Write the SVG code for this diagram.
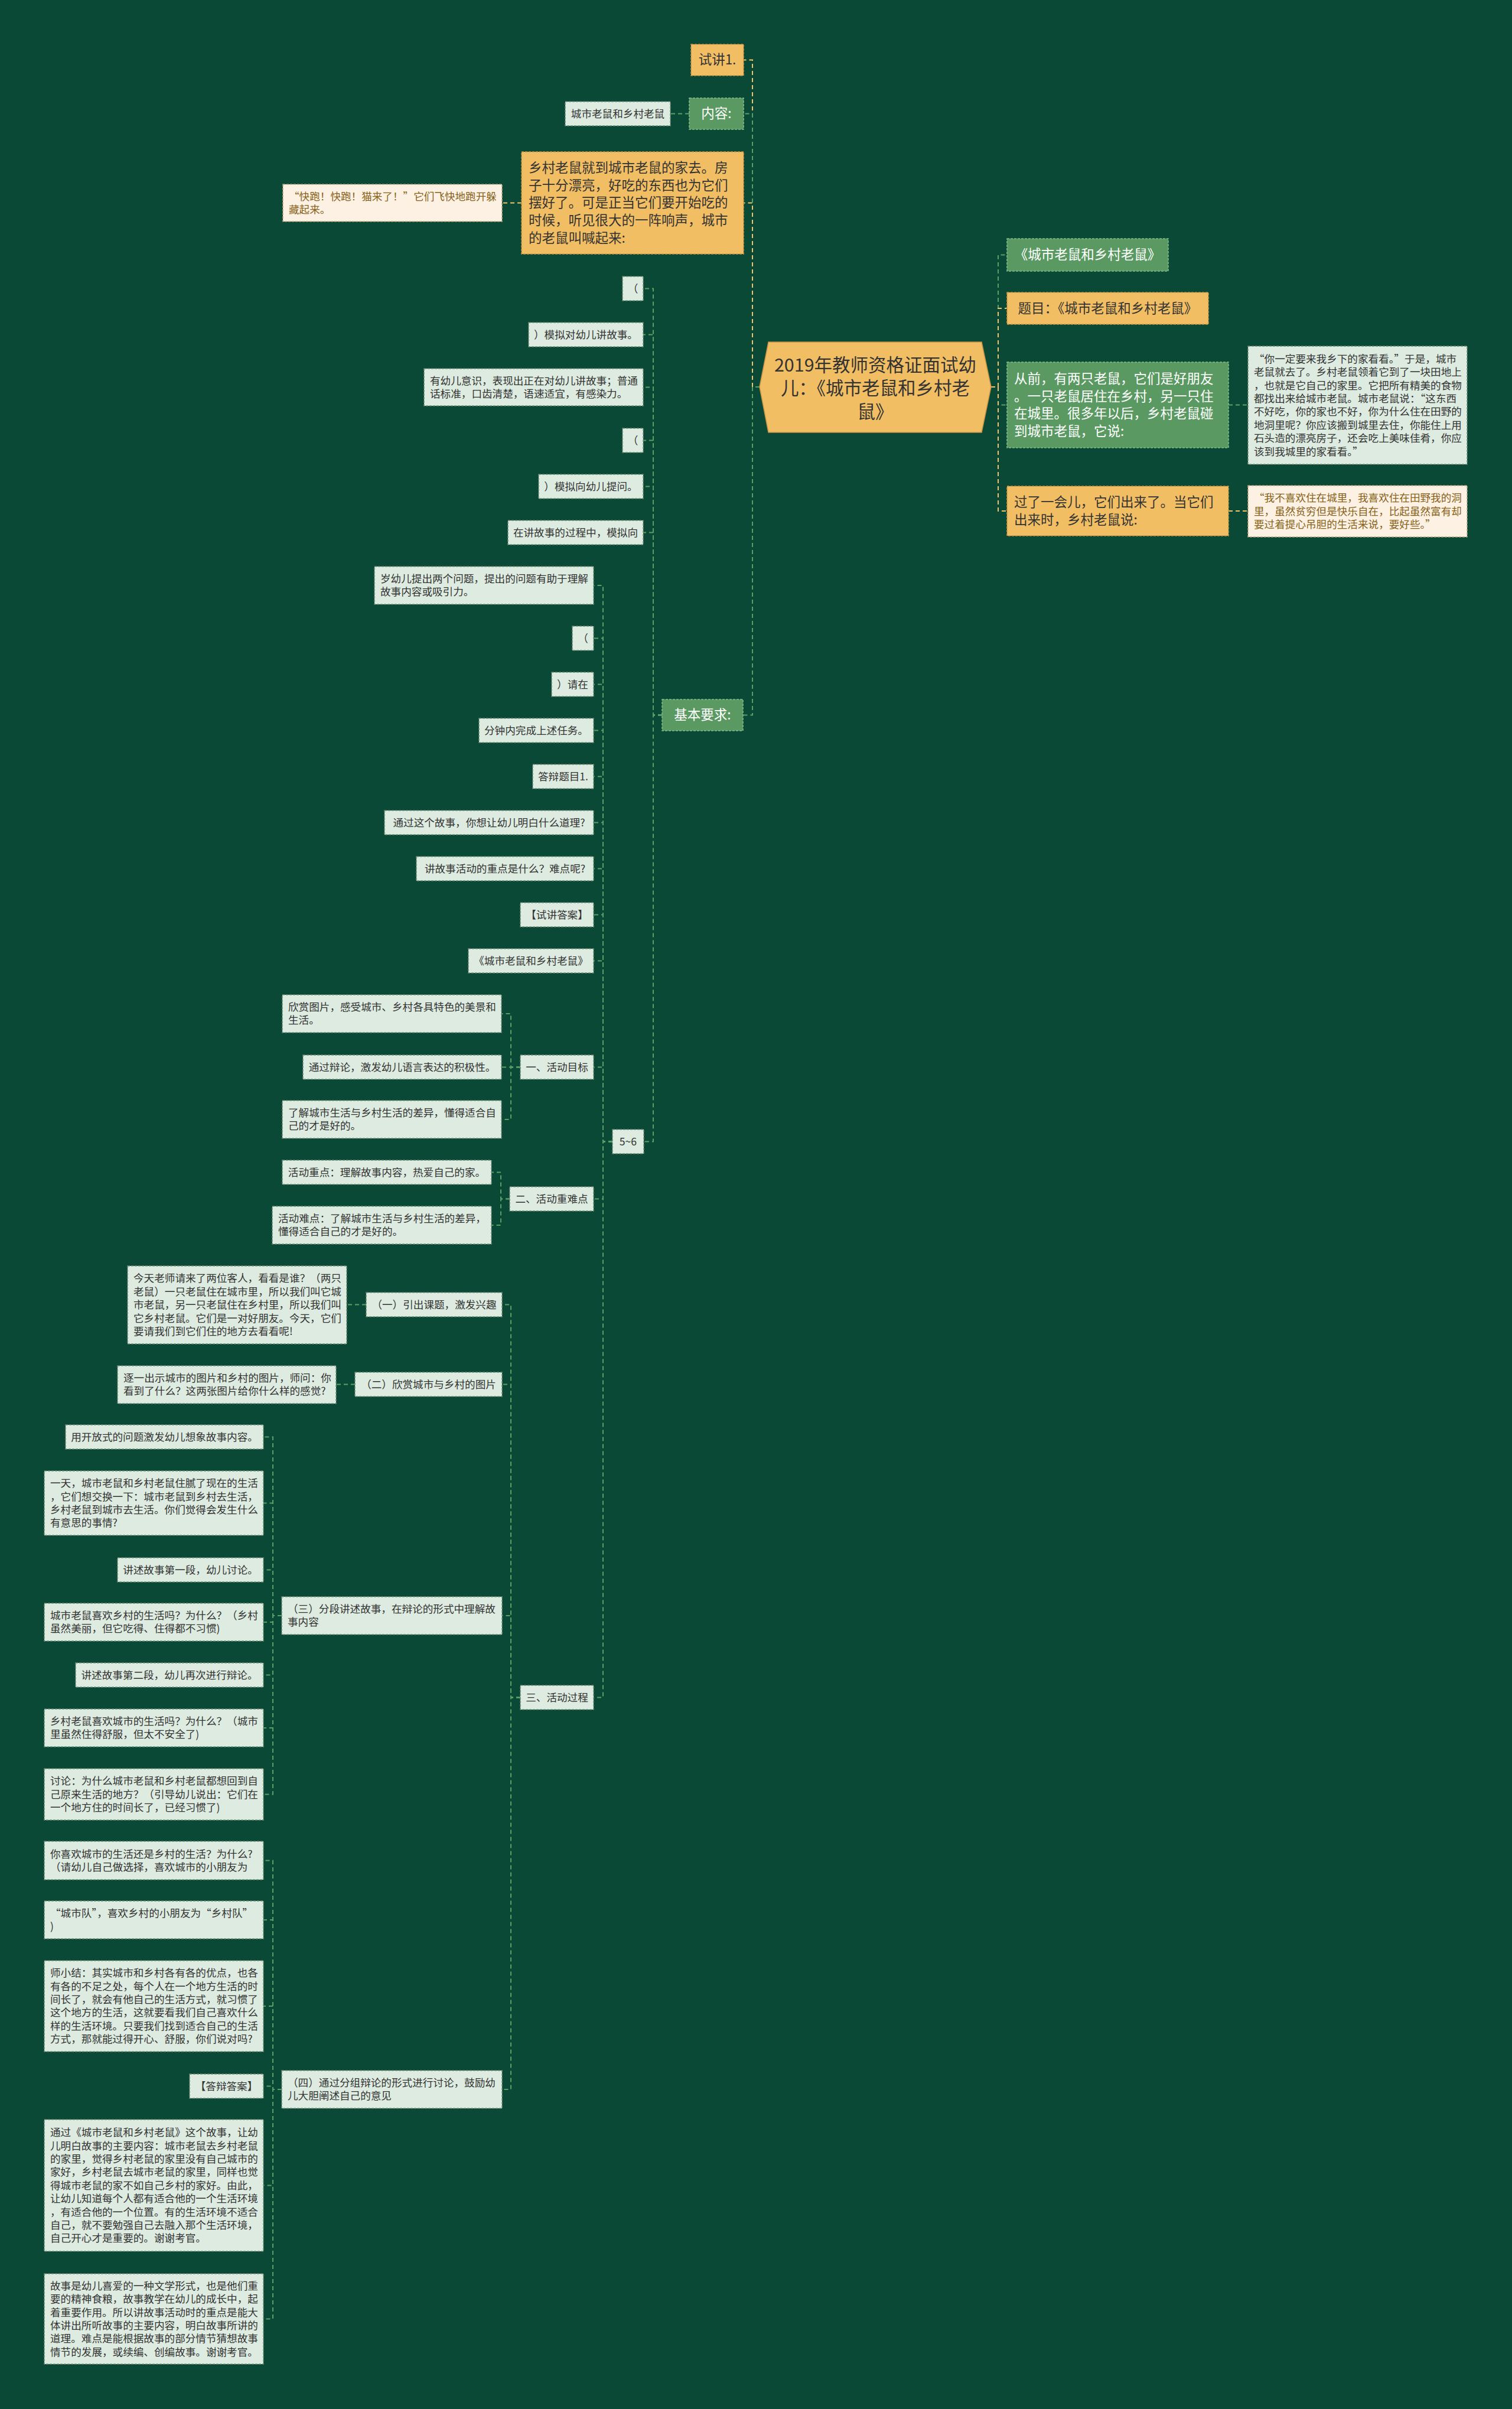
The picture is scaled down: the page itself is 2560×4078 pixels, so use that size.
<svg xmlns="http://www.w3.org/2000/svg" width="2560" height="4078" viewBox="0 0 2560 4078">
<style>
text{font-family:"Noto Sans CJK SC","Microsoft YaHei","Liberation Sans",sans-serif;}
.bg{fill:#0A4935;}
.lk{fill:none;stroke-width:2;stroke-dasharray:7 5;}
.g{stroke:#5C9E68;}
.y{stroke:#F2C36A;}
.or{fill:#F2BE63;stroke:#C99446;stroke-width:1.5;stroke-dasharray:4 2;}
.gr{fill:#5A9A62;stroke:#85BA8B;stroke-width:1.5;stroke-dasharray:4 2;}
.lt{fill:#DDEBE0;stroke:#6F8C78;stroke-width:1.5;stroke-dasharray:4 2;}
.cr{fill:#FCF1E2;stroke:#B9A27A;stroke-width:1.5;stroke-dasharray:4 2;}
.rt{fill:#F2BE63;stroke:#C99446;stroke-width:1.5;}
.s{font-size:17.6px;fill:#333333;}
.sb{font-size:17.6px;fill:#87621B;}
.m{font-size:22.5px;fill:#333333;}
.mw{font-size:22.5px;fill:#FFFFFF;}
.r{font-size:30.5px;fill:#333333;}
.c{text-anchor:middle;}
</style>
<rect class="bg" x="0" y="0" width="2560" height="4078"/>

<g id="connectors">
<path class="lk y" d="M1286 655 H1274 V101.5 H1259"/>
<path class="lk g" d="M1286 655 H1274 V192.5 H1259"/>
<path class="lk y" d="M1286 655 H1274 V343.5 H1259"/>
<path class="lk g" d="M1286 655 H1274 V1210.5 H1258"/>
<path class="lk g" d="M1678 655 H1690 V431.5 H1705"/>
<path class="lk y" d="M1678 655 H1690 V522 H1705"/>
<path class="lk g" d="M1678 655 H1690 V685.5 H1705"/>
<path class="lk y" d="M1678 655 H1690 V865 H1705"/>
<path class="lk g" d="M2080 685.5 H2113"/>
<path class="lk y" d="M2080 865 H2113"/>
<path class="lk g" d="M1167 192.5 H1135"/>
<path class="lk y" d="M883 343.5 H850"/>
<path class="lk g" d="M1121 1210.5 H1106 V488.5 H1089"/>
<path class="lk g" d="M1121 1210.5 H1106 V566.5 H1089"/>
<path class="lk g" d="M1121 1210.5 H1106 V655.5 H1089"/>
<path class="lk g" d="M1121 1210.5 H1106 V745.5 H1089"/>
<path class="lk g" d="M1121 1210.5 H1106 V823.5 H1089"/>
<path class="lk g" d="M1121 1210.5 H1106 V901.5 H1089"/>
<path class="lk g" d="M1121 1210.5 H1106 V1932.5 H1090"/>
<path class="lk g" d="M1037 1932.5 H1021 V991 H1005"/>
<path class="lk g" d="M1037 1932.5 H1021 V1080.5 H1005"/>
<path class="lk g" d="M1037 1932.5 H1021 V1158.5 H1005"/>
<path class="lk g" d="M1037 1932.5 H1021 V1236.5 H1005"/>
<path class="lk g" d="M1037 1932.5 H1021 V1314.5 H1005"/>
<path class="lk g" d="M1037 1932.5 H1021 V1392.5 H1005"/>
<path class="lk g" d="M1037 1932.5 H1021 V1470.5 H1005"/>
<path class="lk g" d="M1037 1932.5 H1021 V1548.5 H1005"/>
<path class="lk g" d="M1037 1932.5 H1021 V1626.5 H1005"/>
<path class="lk g" d="M1037 1932.5 H1021 V1806.5 H1005"/>
<path class="lk g" d="M1037 1932.5 H1021 V2029.5 H1005"/>
<path class="lk g" d="M1037 1932.5 H1021 V2873.5 H1005"/>
<path class="lk g" d="M881 1806.5 H865 V1716 H849"/>
<path class="lk g" d="M881 1806.5 H849"/>
<path class="lk g" d="M881 1806.5 H865 V1895 H849"/>
<path class="lk g" d="M863 2029.5 H848 V1984.5 H832"/>
<path class="lk g" d="M863 2029.5 H848 V2074 H832"/>
<path class="lk g" d="M881 2873.5 H865 V2208.5 H850"/>
<path class="lk g" d="M881 2873.5 H865 V2343.5 H850"/>
<path class="lk g" d="M881 2873.5 H865 V2735 H850"/>
<path class="lk g" d="M881 2873.5 H865 V3537 H850"/>
<path class="lk g" d="M620 2208.5 H587"/>
<path class="lk g" d="M601 2343.5 H569"/>
<path class="lk g" d="M477 2735 H462 V2432.5 H446"/>
<path class="lk g" d="M477 2735 H462 V2544.5 H446"/>
<path class="lk g" d="M477 2735 H462 V2657.5 H446"/>
<path class="lk g" d="M477 2735 H462 V2746 H446"/>
<path class="lk g" d="M477 2735 H462 V2835.5 H446"/>
<path class="lk g" d="M477 2735 H462 V2925 H446"/>
<path class="lk g" d="M477 2735 H462 V3037.5 H446"/>
<path class="lk g" d="M477 3537 H462 V3149.5 H446"/>
<path class="lk g" d="M477 3537 H462 V3250 H446"/>
<path class="lk g" d="M477 3537 H462 V3396 H446"/>
<path class="lk g" d="M477 3537 H462 V3531.5 H446"/>
<path class="lk g" d="M477 3537 H462 V3699.5 H446"/>
<path class="lk g" d="M477 3537 H462 V3925.5 H446"/>
</g>

<g id="root">
<polygon class="rt" points="1286,655 1301,579 1662,579 1678,655 1662,732 1301,732"/>
<text class="r c" x="1482" y="629">2019年教师资格证面试幼</text>
<text class="r c" x="1482" y="668">儿：《城市老鼠和乡村老</text>
<text class="r c" x="1482" y="708">鼠》</text>
</g>

<g id="n-shijiang"><rect class="or" x="1170" y="75" width="89" height="53"/><text class="m c" x="1214.5" y="109.4">试讲1.</text></g>
<g id="n-neirong"><rect class="gr" x="1167" y="166" width="92" height="53"/><text class="mw c" x="1213" y="200.4">内容:</text></g>
<g id="n-neirong-1"><rect class="lt" x="957" y="172" width="178" height="41"/><text class="s c" x="1046" y="198.7">城市老鼠和乡村老鼠</text></g>
<g id="n-story1"><rect class="or" x="883" y="257" width="376" height="173"/>
<text class="m" x="895" y="292"><tspan x="895">乡村老鼠就到城市老鼠的家去。房</tspan><tspan x="895" dy="29.7">子十分漂亮，好吃的东西也为它们</tspan><tspan x="895" dy="29.7">摆好了。可是正当它们要开始吃的</tspan><tspan x="895" dy="29.7">时候，听见很大的一阵响声，城市</tspan><tspan x="895" dy="29.7">的老鼠叫喊起来:</tspan></text></g>
<g id="n-story1-1"><rect class="cr" x="479" y="312" width="371" height="63"/>
<text class="sb" x="489" y="338.5"><tspan x="489">“快跑！快跑！猫来了！”它们飞快地跑开躲</tspan><tspan x="489" dy="22.4">藏起来。</tspan></text></g>
<g id="n-jiben"><rect class="gr" x="1121" y="1184" width="137" height="53"/><text class="mw c" x="1189.5" y="1218.4">基本要求:</text></g>

<g id="n-r1"><rect class="gr" x="1705" y="404" width="273" height="55"/><text class="mw c" x="1841.5" y="439.4">《城市老鼠和乡村老鼠》</text></g>
<g id="n-r2"><rect class="or" x="1705" y="495" width="341" height="54"/><text class="m c" x="1875.5" y="529.9">题目：《城市老鼠和乡村老鼠》</text></g>
<g id="n-r3"><rect class="gr" x="1705" y="613" width="375" height="145"/>
<text class="mw" x="1717" y="648.8"><tspan x="1717">从前，有两只老鼠，它们是好朋友</tspan><tspan x="1717" dy="29.7">。一只老鼠居住在乡村，另一只住</tspan><tspan x="1717" dy="29.7">在城里。很多年以后，乡村老鼠碰</tspan><tspan x="1717" dy="29.7">到城市老鼠，它说:</tspan></text></g>
<g id="n-r3-1"><rect class="lt" x="2113" y="586" width="371" height="200"/>
<text class="s" x="2123" y="613.8"><tspan x="2123">“你一定要来我乡下的家看看。”于是，城市</tspan><tspan x="2123" dy="22.4">老鼠就去了。乡村老鼠领着它到了一块田地上</tspan><tspan x="2123" dy="22.4">，也就是它自己的家里。它把所有精美的食物</tspan><tspan x="2123" dy="22.4">都找出来给城市老鼠。城市老鼠说：“这东西</tspan><tspan x="2123" dy="22.4">不好吃，你的家也不好，你为什么住在田野的</tspan><tspan x="2123" dy="22.4">地洞里呢？你应该搬到城里去住，你能住上用</tspan><tspan x="2123" dy="22.4">石头造的漂亮房子，还会吃上美味佳肴，你应</tspan><tspan x="2123" dy="22.4">该到我城里的家看看。”</tspan></text></g>
<g id="n-r4"><rect class="or" x="1705" y="823" width="375" height="84"/>
<text class="m" x="1717" y="858"><tspan x="1717">过了一会儿，它们出来了。当它们</tspan><tspan x="1717" dy="29.7">出来时，乡村老鼠说:</tspan></text></g>
<g id="n-r4-1"><rect class="cr" x="2113" y="822" width="371" height="87"/>
<text class="sb" x="2123" y="849.3"><tspan x="2123">“我不喜欢住在城里，我喜欢住在田野我的洞</tspan><tspan x="2123" dy="22.4">里，虽然贫穷但是快乐自在，比起虽然富有却</tspan><tspan x="2123" dy="22.4">要过着提心吊胆的生活来说，要好些。”</tspan></text></g>

<g id="n-j1"><rect class="lt" x="1054" y="468" width="35" height="41"/><text class="s c" x="1071.5" y="494.7">（</text></g>
<g id="n-j2"><rect class="lt" x="895" y="546" width="194" height="41"/><text class="s c" x="992" y="572.7">）模拟对幼儿讲故事。</text></g>
<g id="n-j3"><rect class="lt" x="718" y="624" width="371" height="63"/>
<text class="s" x="728" y="650.5"><tspan x="728">有幼儿意识，表现出正在对幼儿讲故事；普通</tspan><tspan x="728" dy="22.4">话标准，口齿清楚，语速适宜，有感染力。</tspan></text></g>
<g id="n-j4"><rect class="lt" x="1054" y="725" width="35" height="41"/><text class="s c" x="1071.5" y="751.7">（</text></g>
<g id="n-j5"><rect class="lt" x="912" y="803" width="177" height="41"/><text class="s c" x="1000.5" y="829.7">）模拟向幼儿提问。</text></g>
<g id="n-j6"><rect class="lt" x="860" y="881" width="229" height="41"/><text class="s c" x="974.5" y="907.7">在讲故事的过程中，模拟向</text></g>
<g id="n-j7"><rect class="lt" x="1037" y="1912" width="53" height="41"/><text class="s c" x="1063.5" y="1938.7">5~6</text></g>

<g id="n-k1"><rect class="lt" x="634" y="959" width="371" height="64"/>
<text class="s" x="644" y="986"><tspan x="644">岁幼儿提出两个问题，提出的问题有助于理解</tspan><tspan x="644" dy="22.4">故事内容或吸引力。</tspan></text></g>
<g id="n-k2"><rect class="lt" x="969" y="1060" width="36" height="41"/><text class="s c" x="987" y="1086.7">（</text></g>
<g id="n-k3"><rect class="lt" x="934" y="1138" width="71" height="41"/><text class="s c" x="969.5" y="1164.7">）请在</text></g>
<g id="n-k4"><rect class="lt" x="811" y="1216" width="194" height="41"/><text class="s c" x="908" y="1242.7">分钟内完成上述任务。</text></g>
<g id="n-k5"><rect class="lt" x="902" y="1294" width="103" height="41"/><text class="s c" x="953.5" y="1320.7">答辩题目1.</text></g>
<g id="n-k6"><rect class="lt" x="651" y="1372" width="354" height="41"/><text class="s c" x="828" y="1398.7">通过这个故事，你想让幼儿明白什么道理?</text></g>
<g id="n-k7"><rect class="lt" x="705" y="1450" width="300" height="41"/><text class="s c" x="855" y="1476.7">讲故事活动的重点是什么？难点呢?</text></g>
<g id="n-k8"><rect class="lt" x="881" y="1528" width="124" height="41"/><text class="s c" x="943" y="1554.7">【试讲答案】</text></g>
<g id="n-k9"><rect class="lt" x="793" y="1606" width="212" height="41"/><text class="s c" x="899" y="1632.7">《城市老鼠和乡村老鼠》</text></g>
<g id="n-k10"><rect class="lt" x="881" y="1786" width="124" height="41"/><text class="s c" x="943" y="1812.7">一、活动目标</text></g>
<g id="n-k11"><rect class="lt" x="863" y="2009" width="142" height="41"/><text class="s c" x="934" y="2035.7">二、活动重难点</text></g>
<g id="n-k12"><rect class="lt" x="881" y="2853" width="124" height="41"/><text class="s c" x="943" y="2879.7">三、活动过程</text></g>

<g id="n-m1"><rect class="lt" x="478" y="1684" width="371" height="64"/>
<text class="s" x="488" y="1711"><tspan x="488">欣赏图片，感受城市、乡村各具特色的美景和</tspan><tspan x="488" dy="22.4">生活。</tspan></text></g>
<g id="n-m2"><rect class="lt" x="513" y="1786" width="336" height="41"/><text class="s c" x="681" y="1812.7">通过辩论，激发幼儿语言表达的积极性。</text></g>
<g id="n-m3"><rect class="lt" x="478" y="1863" width="371" height="64"/>
<text class="s" x="488" y="1890"><tspan x="488">了解城市生活与乡村生活的差异，懂得适合自</tspan><tspan x="488" dy="22.4">己的才是好的。</tspan></text></g>
<g id="n-m4"><rect class="lt" x="478" y="1964" width="354" height="41"/><text class="s c" x="655" y="1990.7">活动重点：理解故事内容，热爱自己的家。</text></g>
<g id="n-m5"><rect class="lt" x="461" y="2042" width="371" height="64"/>
<text class="s" x="471" y="2069"><tspan x="471">活动难点：了解城市生活与乡村生活的差异，</tspan><tspan x="471" dy="22.4">懂得适合自己的才是好的。</tspan></text></g>

<g id="n-p1"><rect class="lt" x="620" y="2188" width="230" height="41"/><text class="s c" x="735" y="2214.7">（一）引出课题，激发兴趣</text></g>
<g id="n-p2"><rect class="lt" x="601" y="2323" width="249" height="41"/><text class="s c" x="725.5" y="2349.7">（二）欣赏城市与乡村的图片</text></g>
<g id="n-p3"><rect class="lt" x="477" y="2703" width="373" height="64"/>
<text class="s" x="487" y="2730"><tspan x="487">（三）分段讲述故事，在辩论的形式中理解故</tspan><tspan x="487" dy="22.4">事内容</tspan></text></g>
<g id="n-p4"><rect class="lt" x="477" y="3505" width="373" height="64"/>
<text class="s" x="487" y="3532"><tspan x="487">（四）通过分组辩论的形式进行讨论，鼓励幼</tspan><tspan x="487" dy="22.4">儿大胆阐述自己的意见</tspan></text></g>

<g id="n-p1-1"><rect class="lt" x="216" y="2143" width="371" height="132"/>
<text class="s" x="226" y="2170.4"><tspan x="226">今天老师请来了两位客人，看看是谁？（两只</tspan><tspan x="226" dy="22.4">老鼠）一只老鼠住在城市里，所以我们叫它城</tspan><tspan x="226" dy="22.4">市老鼠，另一只老鼠住在乡村里，所以我们叫</tspan><tspan x="226" dy="22.4">它乡村老鼠。它们是一对好朋友。今天，它们</tspan><tspan x="226" dy="22.4">要请我们到它们住的地方去看看呢!</tspan></text></g>
<g id="n-p2-1"><rect class="lt" x="199" y="2312" width="370" height="64"/>
<text class="s" x="209" y="2339"><tspan x="209">逐一出示城市的图片和乡村的图片，师问：你</tspan><tspan x="209" dy="22.4">看到了什么？这两张图片给你什么样的感觉?</tspan></text></g>

<g id="n-q1"><rect class="lt" x="111" y="2412" width="335" height="41"/><text class="s c" x="278.5" y="2438.7">用开放式的问题激发幼儿想象故事内容。</text></g>
<g id="n-q2"><rect class="lt" x="75" y="2490" width="371" height="109"/>
<text class="s" x="85" y="2517.1"><tspan x="85">一天，城市老鼠和乡村老鼠住腻了现在的生活</tspan><tspan x="85" dy="22.4">，它们想交换一下：城市老鼠到乡村去生活，</tspan><tspan x="85" dy="22.4">乡村老鼠到城市去生活。你们觉得会发生什么</tspan><tspan x="85" dy="22.4">有意思的事情?</tspan></text></g>
<g id="n-q3"><rect class="lt" x="199" y="2637" width="247" height="41"/><text class="s c" x="322.5" y="2663.7">讲述故事第一段，幼儿讨论。</text></g>
<g id="n-q4"><rect class="lt" x="75" y="2714" width="371" height="64"/>
<text class="s" x="85" y="2741"><tspan x="85">城市老鼠喜欢乡村的生活吗？为什么？（乡村</tspan><tspan x="85" dy="22.4">虽然美丽，但它吃得、住得都不习惯)</tspan></text></g>
<g id="n-q5"><rect class="lt" x="128" y="2815" width="318" height="41"/><text class="s c" x="287" y="2841.7">讲述故事第二段，幼儿再次进行辩论。</text></g>
<g id="n-q6"><rect class="lt" x="75" y="2893" width="371" height="64"/>
<text class="s" x="85" y="2920"><tspan x="85">乡村老鼠喜欢城市的生活吗？为什么？（城市</tspan><tspan x="85" dy="22.4">里虽然住得舒服，但太不安全了)</tspan></text></g>
<g id="n-q7"><rect class="lt" x="75" y="2994" width="371" height="87"/>
<text class="s" x="85" y="3021.3"><tspan x="85">讨论：为什么城市老鼠和乡村老鼠都想回到自</tspan><tspan x="85" dy="22.4">己原来生活的地方？（引导幼儿说出：它们在</tspan><tspan x="85" dy="22.4">一个地方住的时间长了，已经习惯了)</tspan></text></g>

<g id="n-t1"><rect class="lt" x="75" y="3117" width="371" height="65"/>
<text class="s" x="85" y="3144.5"><tspan x="85">你喜欢城市的生活还是乡村的生活？为什么?</tspan><tspan x="85" dy="22.4">（请幼儿自己做选择，喜欢城市的小朋友为</tspan></text></g>
<g id="n-t2"><rect class="lt" x="75" y="3218" width="371" height="64"/>
<text class="s" x="85" y="3245"><tspan x="85">“城市队”，喜欢乡村的小朋友为“乡村队”</tspan><tspan x="85" dy="22.4">)</tspan></text></g>
<g id="n-t3"><rect class="lt" x="75" y="3319" width="371" height="154"/>
<text class="s" x="85" y="3346.2"><tspan x="85">师小结：其实城市和乡村各有各的优点，也各</tspan><tspan x="85" dy="22.4">有各的不足之处，每个人在一个地方生活的时</tspan><tspan x="85" dy="22.4">间长了，就会有他自己的生活方式，就习惯了</tspan><tspan x="85" dy="22.4">这个地方的生活，这就要看我们自己喜欢什么</tspan><tspan x="85" dy="22.4">样的生活环境。只要我们找到适合自己的生活</tspan><tspan x="85" dy="22.4">方式，那就能过得开心、舒服，你们说对吗?</tspan></text></g>
<g id="n-t4"><rect class="lt" x="321" y="3511" width="125" height="41"/><text class="s c" x="383.5" y="3537.7">【答辩答案】</text></g>
<g id="n-t5"><rect class="lt" x="75" y="3588" width="371" height="223"/>
<text class="s" x="85" y="3616.1"><tspan x="85">通过《城市老鼠和乡村老鼠》这个故事，让幼</tspan><tspan x="85" dy="22.4">儿明白故事的主要内容：城市老鼠去乡村老鼠</tspan><tspan x="85" dy="22.4">的家里，觉得乡村老鼠的家里没有自己城市的</tspan><tspan x="85" dy="22.4">家好，乡村老鼠去城市老鼠的家里，同样也觉</tspan><tspan x="85" dy="22.4">得城市老鼠的家不如自己乡村的家好。由此，</tspan><tspan x="85" dy="22.4">让幼儿知道每个人都有适合他的一个生活环境</tspan><tspan x="85" dy="22.4">，有适合他的一个位置。有的生活环境不适合</tspan><tspan x="85" dy="22.4">自己，就不要勉强自己去融入那个生活环境，</tspan><tspan x="85" dy="22.4">自己开心才是重要的。谢谢考官。</tspan></text></g>
<g id="n-t6"><rect class="lt" x="75" y="3849" width="371" height="153"/>
<text class="s" x="85" y="3875.7"><tspan x="85">故事是幼儿喜爱的一种文学形式，也是他们重</tspan><tspan x="85" dy="22.4">要的精神食粮，故事教学在幼儿的成长中，起</tspan><tspan x="85" dy="22.4">着重要作用。所以讲故事活动时的重点是能大</tspan><tspan x="85" dy="22.4">体讲出所听故事的主要内容，明白故事所讲的</tspan><tspan x="85" dy="22.4">道理。难点是能根据故事的部分情节猜想故事</tspan><tspan x="85" dy="22.4">情节的发展，或续编、创编故事。谢谢考官。</tspan></text></g>
</svg>
